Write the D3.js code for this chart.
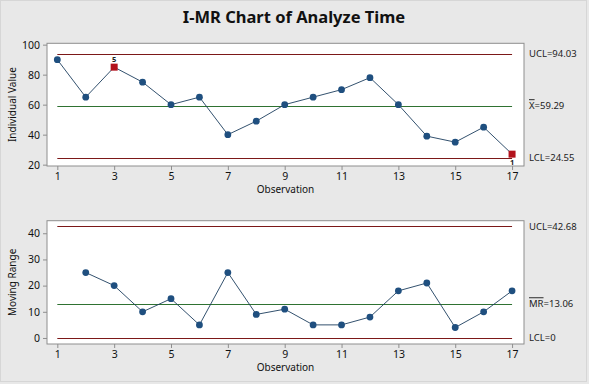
<!DOCTYPE html>
<html>
<head>
<meta charset="utf-8">
<script src="https://cdn.jsdelivr.net/npm/d3@7"></script>
<style>
  body { margin: 0; background: #e8e8e8; }
  svg { display: block; font-family: "Noto Sans", "Open Sans", sans-serif; }
</style>
</head>
<body>
<svg width="589" height="384"></svg>
<script>
// observations and their values
const observations = d3.range(1, 18);
const individualValues = [90, 65, 85, 75, 60, 65, 40, 49, 60, 65, 70, 78, 60, 39, 35, 45, 27];
const movingRanges = [null, 25, 20, 10, 15, 5, 25, 9, 11, 5, 5, 8, 18, 21, 4, 10, 18];
const xTicks = [1, 3, 5, 7, 9, 11, 13, 15, 17];
const iTicks = [20, 40, 60, 80, 100];
const mrTicks = [0, 10, 20, 30, 40];
// control limits
const iLimits = { ucl: 94.03, center: 59.29, lcl: 24.55 };
const mrLimits = { ucl: 42.68, center: 13.06, lcl: 0 };
// out of control points: [observation, test number]
const flagged = [[3, "5"], [17, "1"]];

const svg = d3.select('svg');
const width = +svg.attr('width');
const height = +svg.attr('height');

// background + faint frame
svg.append('rect').attr('x', 0.5).attr('y', 0.5).attr('width', width - 3).attr('height', height - 3)
  .attr('fill', '#e8e8e8').attr('stroke', '#d6d6d6');

svg.append('text')
  .attr('x', 294).attr('y', 23)
  .attr('text-anchor', 'middle')
  .attr('font-size', 16.5).attr('font-weight', 'bold').attr('fill', '#111')
  .text('I-MR Chart of Analyze Time');

const lineColor = '#1c3d5e';
const pointColor = '#1f4f7f';
const limitColor = '#7c1818';
const centerColor = '#2f7232';
const flagColor = '#b3121c';

function drawPanel(cfg) {
  const x = d3.scaleLinear().domain([0.637, 17.42]).range([47, 524]);
  const y = d3.scaleLinear().domain(cfg.domain).range([cfg.bottom, cfg.top]);
  const g = svg.append('g');

  // plot area
  g.append('rect')
    .attr('x', 47).attr('y', cfg.top)
    .attr('width', 477).attr('height', cfg.bottom - cfg.top)
    .attr('fill', '#fff').attr('stroke', '#8e8e8e');

  // axes
  const yAxis = g.append('g').attr('transform', 'translate(47,0)')
    .call(d3.axisLeft(y).tickValues(cfg.ticks).tickSize(4).tickPadding(3));
  const xAxis = g.append('g').attr('transform', `translate(0,${cfg.bottom})`)
    .call(d3.axisBottom(x).tickValues(xTicks).tickSize(4).tickPadding(3));
  [yAxis, xAxis].forEach(a => {
    a.select('.domain').remove();
    a.selectAll('line').attr('stroke', '#8e8e8e');
    a.selectAll('text').attr('font-size', 10.5).attr('fill', '#111')
      .attr('font-family', '"Noto Sans", sans-serif');
  });

  g.append('text')
    .attr('x', 285.5).attr('y', cfg.bottom + 27)
    .attr('text-anchor', 'middle').attr('font-size', 10).attr('fill', '#111')
    .text('Observation');
  g.append('text')
    .attr('transform', `translate(16,${(cfg.top + cfg.bottom) / 2}) rotate(-90)`)
    .attr('text-anchor', 'middle').attr('font-size', 10).attr('fill', '#111')
    .text(cfg.yLabel);

  // control lines
  const lines = [
    { v: cfg.limits.ucl, c: limitColor },
    { v: cfg.limits.center, c: centerColor },
    { v: cfg.limits.lcl, c: limitColor }
  ];
  g.selectAll('.cl').data(lines).join('line')
    .attr('class', 'cl')
    .attr('x1', x(1)).attr('x2', x(17))
    .attr('y1', d => Math.round(y(d.v)) + 0.5).attr('y2', d => Math.round(y(d.v)) + 0.5)
    .attr('stroke', d => d.c).attr('stroke-width', 1);

  // limit labels
  cfg.labels.forEach(l => {
    const t = g.append('text')
      .attr('x', 529).attr('y', y(l.v) + 3.5)
      .attr('font-size', 9.5).attr('fill', '#222');
    if (l.bar) {
      t.append('tspan').attr('text-decoration', 'overline').text(l.bar);
      t.append('tspan').text(l.rest);
    } else {
      t.text(l.rest);
    }
  });

  const pts = observations.map((o, i) => ({ o: o, v: cfg.values[i] })).filter(d => d.v != null);

  g.append('path').datum(pts)
    .attr('fill', 'none').attr('stroke', lineColor).attr('stroke-width', 0.9)
    .attr('d', d3.line().x(d => x(d.o)).y(d => y(d.v)));

  const flagIds = cfg.flags.map(f => f[0]);
  g.selectAll('.pt').data(pts.filter(d => !flagIds.includes(d.o))).join('circle')
    .attr('class', 'pt')
    .attr('cx', d => x(d.o)).attr('cy', d => y(d.v)).attr('r', 3.4)
    .attr('fill', pointColor);

  cfg.flags.forEach(f => {
    const d = pts.find(p => p.o === f[0]);
    g.append('rect')
      .attr('x', x(d.o) - 3.5).attr('y', y(d.v) - 3.5)
      .attr('width', 7).attr('height', 7)
      .attr('fill', flagColor);
    const above = d.v > cfg.limits.center;
    g.append('text')
      .attr('x', x(d.o)).attr('y', above ? y(d.v) - 5 : y(d.v) + 11)
      .attr('text-anchor', 'middle').attr('font-size', 7.5).attr('font-weight', 'bold')
      .attr('fill', '#222')
      .text(f[1]);
  });
}

drawPanel({
  top: 43.3, bottom: 166,
  domain: [19.1, 100.9],
  ticks: iTicks,
  values: individualValues,
  limits: iLimits,
  yLabel: 'Individual Value',
  flags: flagged,
  labels: [
    { v: iLimits.ucl, rest: 'UCL=94.03' },
    { v: iLimits.center, bar: 'X', rest: '=59.29' },
    { v: iLimits.lcl, rest: 'LCL=24.55' }
  ]
});

drawPanel({
  top: 220.7, bottom: 344,
  domain: [-2.3, 44.8],
  ticks: mrTicks,
  values: movingRanges,
  limits: mrLimits,
  yLabel: 'Moving Range',
  flags: [],
  labels: [
    { v: mrLimits.ucl, rest: 'UCL=42.68' },
    { v: mrLimits.center, bar: 'MR', rest: '=13.06' },
    { v: mrLimits.lcl, rest: 'LCL=0' }
  ]
});
</script>
</body>
</html>
